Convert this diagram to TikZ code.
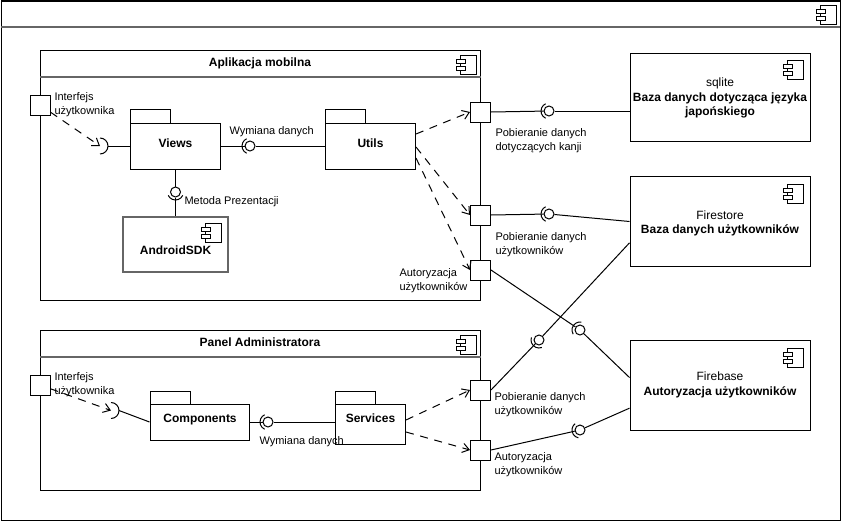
\documentclass[tikz,border=0pt]{standalone}
\usepackage{fontspec}
\setmainfont{Liberation Sans}
\usetikzlibrary{arrows.meta,fit,calc}
\definecolor{hdrgray}{RGB}{102,102,102}
\newcommand{\sockarc}[2]{\draw (#1.center) ++({#2-65}:8) arc[start angle={#2-65}, end angle={#2+65}, radius=8];}
\begin{document}
\begin{tikzpicture}[x=0.75pt,y=-0.75pt, line width=0.75pt,
  lbl/.style={font=\fontsize{8.25}{10}\selectfont, inner sep=0, anchor=base west},
  ttl/.style={font=\fontsize{9}{11}\selectfont\bfseries, inner sep=0, anchor=base},
  txt/.style={font=\fontsize{9}{11}\selectfont, inner sep=0, anchor=base},
  frame/.style={draw, inner sep=0},
  port/.style={draw, fill=white, inner sep=0, minimum size=15pt},
  ball/.style={draw, fill=white, circle, inner sep=0, minimum size=7.5pt},
  dep/.style={dash pattern=on 6pt off 5pt, -{Straight Barb[length=5pt,width=7pt]}},
  hdr/.style={draw=hdrgray, line width=1.5pt},
  compicon/.pic={
    \draw[fill=white] (4,0) rectangle (20,19);
    \draw[fill=white] (0,4) rectangle (9,8);
    \draw[fill=white] (0,11) rectangle (9,15);
  }
]
\useasboundingbox (0,0) rectangle (842,521);

% outer frame
\node[frame, fit={(1,1)(840,520)}] (outer) {};
\draw[hdr] (1,26.5) -- (840,26.5);
\pic at (816,5) {compicon};

% ---------- Aplikacja mobilna ----------
\node[frame, fit={(40,50)(480.5,300)}] (app) {};
\draw[hdr] (40,77) -- (480.5,77);
\node[ttl] (appT) at (260,66.5) {Aplikacja mobilna};
\pic at (456,55) {compicon};

% Views package
\draw (130.5,109) rectangle (170.5,123);
\node[frame, fit={(130.5,123)(220.5,169)}] (views) {};
\node[ttl] (viewsT) at (175.5,147.5) {Views};
% Utils package
\draw (325.5,109) rectangle (365.5,123);
\node[frame, fit={(325.5,123)(415.5,169)}] (utils) {};
\node[ttl] (utilsT) at (370.5,147.5) {Utils};

% AndroidSDK
\node[draw=hdrgray, line width=1.5pt, inner sep=0, fit={(123,216.5)(228,272)}] (sdk) {};
\node[ttl] (sdkT) at (175.5,254) {AndroidSDK};
\pic at (201,223) {compicon};

% user interface port + required socket
\node[port] (ui1) at (40,105) {};
\node[lbl] (ui1a) at (54,100) {Interfejs};
\node[lbl] (ui1b) at (54,114) {użytkownika};
\coordinate (sk1) at (100,146);
\coordinate (sk1r) at (108,146);
\draw (sk1) ++(0,-8) arc[start angle=-90, end angle=90, radius=8];
\draw (sk1r) -- (views.west);
\draw[dep] (ui1) -- (sk1);

% Views - Utils
\node[ball] (b1) at (250,146) {};
\draw (views.east) -- (b1);
\draw (b1) -- (utils.west);
\sockarc{b1}{180}
\node[lbl] (b1T) at (229,134) {Wymiana danych};

% Views - AndroidSDK
\node[ball] (b2) at (175.5,192) {};
\draw (views.south) -- (b2);
\draw (b2) -- (sdk.north);
\sockarc{b2}{90}
\node[lbl] (b2T) at (184,204) {Metoda Prezentacji};

% right ports of app
\node[port] (p1) at (480.5,112) {};
\node[port] (p2) at (480.5,215) {};
\node[port] (p3) at (480.5,270) {};
\node[lbl] (p1a) at (495,136) {Pobieranie danych};
\node[lbl] (p1b) at (495,150) {dotyczących kanji};
\node[lbl] (p2a) at (495,240) {Pobieranie danych};
\node[lbl] (p2b) at (495,254) {użytkowników};
\node[lbl] (p3a) at (399,276) {Autoryzacja};
\node[lbl] (p3b) at (399,290) {użytkowników};

\draw[dep] ([yshift=9pt]utils.east) -- (p1.west);
\draw[dep] ([yshift=-0.75pt]utils.east) -- (p2.west);
\draw[dep] ([yshift=-9pt]utils.east) -- (p3.west);

% ---------- external components ----------
\node[frame, fit={(630,53)(810,141.5)}] (sq) {};
\node[txt] (sqA) at (720,86) {sqlite};
\node[ttl] (sqB) at (720,101.5) {Baza danych dotycząca języka};
\node[ttl] (sqC) at (720,115.5) {japońskiego};
\pic at (783,60) {compicon};

\node[frame, fit={(630,176.5)(810,266.5)}] (fs) {};
\node[txt] (fsA) at (720,219) {Firestore};
\node[ttl] (fsB) at (720,233) {Baza danych użytkowników};
\pic at (783,184) {compicon};

\node[frame, fit={(630,340.5)(810,430.5)}] (fb) {};
\node[txt] (fbA) at (720,380.5) {Firebase};
\node[ttl] (fbB) at (720,395) {Autoryzacja użytkowników};
\pic at (783,348) {compicon};

% ---------- Panel Administratora ----------
\node[frame, fit={(40,330.5)(480.5,490.5)}] (panel) {};
\draw[hdr] (40,356.5) -- (480.5,356.5);
\node[ttl] (panelT) at (260,346.5) {Panel Administratora};
\pic at (456,335) {compicon};

\draw (150,391) rectangle (190,404);
\node[frame, fit={(150,404)(249.5,440)}] (comp) {};
\node[ttl] (compT) at (200,422.5) {Components};
\draw (335.5,391) rectangle (375.5,404);
\node[frame, fit={(335.5,404)(405.5,444)}] (serv) {};
\node[ttl] (servT) at (370.5,422.5) {Services};

\node[port] (ui2) at (40,385) {};
\node[lbl] (ui2a) at (54,380) {Interfejs};
\node[lbl] (ui2b) at (54,394) {użytkownika};
\coordinate (sk2) at (111,410.5);
\coordinate (sk2r) at (119,410.5);
\draw (sk2) ++(0,-8) arc[start angle=-90, end angle=90, radius=8];
\draw (sk2r) -- (comp.west);
\draw[dep] (ui2) -- (sk2);

\node[ball] (b6) at (268,422) {};
\draw (comp.east) -- (b6);
\draw (b6) -- (b6 -| serv.west);
\sockarc{b6}{180}
\node[lbl] (b6T) at (259,444) {Wymiana danych};

\node[port] (p4) at (480.5,390) {};
\node[port] (p5) at (480.5,450) {};
\node[lbl] (p4a) at (494,400) {Pobieranie danych};
\node[lbl] (p4b) at (494,414) {użytkowników};
\node[lbl] (p5a) at (494,460) {Autoryzacja};
\node[lbl] (p5b) at (494,474) {użytkowników};

\draw[dep] ([yshift=3pt]serv.east) -- (p4.west);
\draw[dep] ([yshift=-6pt]serv.east) -- (p5.west);

% ---------- interface connections ----------
\node[ball] (b3) at (549,111) {};
\draw (p1.east) -- (b3);
\draw (b3) -- (b3 -| sq.west);
\sockarc{b3}{180}

\node[ball] (b4) at (549,214) {};
\draw (p2.east) -- (b4);
\draw (b4) -- (fs.west);
\sockarc{b4}{180}

\node[ball] (b5) at (580,330) {};
\draw (p3.east) -- (b5);
\draw (b5) -- ([yshift=6pt]fb.west);
\sockarc{b5}{214}

\node[ball] (b7) at (539,340) {};
\draw (p4.east) -- (b7);
\draw (b7) -- ([yshift=-16pt]fs.west);
\sockarc{b7}{134}

\node[ball] (b8) at (580,430) {};
\draw (p5.east) -- (b8);
\draw (b8) -- ([yshift=-17pt]fb.west);
\sockarc{b8}{167}
\end{tikzpicture}
\end{document}
